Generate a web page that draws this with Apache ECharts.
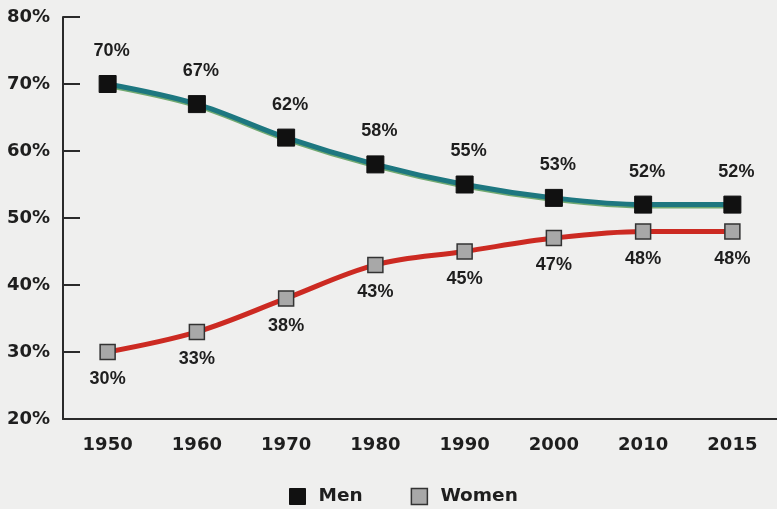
<!DOCTYPE html>
<html>
<head>
<meta charset="utf-8">
<script src="https://cdn.jsdelivr.net/npm/echarts@6/dist/echarts.min.js"></script>
<style>
  html, body { margin: 0; padding: 0; background: #efefee; }
  #chart { width: 777px; height: 509px; }
</style>
</head>
<body>
<div id="chart"></div>
<script>
// Share of the workforce by sex, 1950-2015
const years = ['1950', '1960', '1970', '1980', '1990', '2000', '2010', '2015'];
const men = [70, 67, 62, 58, 55, 53, 52, 52];
const women = [30, 33, 38, 43, 45, 47, 48, 48];
const yTicks = { min: 20, max: 80, step: 10 };

const FONT = 'DejaVu Sans';
const LABEL_FONT = 'Liberation Sans';
const INK = '#1e1e1e';

const pct = p => p.value + '%';

const chart = echarts.init(document.getElementById('chart'));
chart.setOption({
  backgroundColor: '#efefee',
  animation: false,
  grid: { left: 63, right: -2, top: 17, bottom: 90 },
  legend: {
    left: 289,
    bottom: 3,
    padding: 0,
    itemWidth: 16,
    itemHeight: 16,
    itemGap: 48,
    textStyle: { fontFamily: FONT, fontWeight: 'bold', fontSize: 18.5, color: INK, padding: [0, 0, 0, 8] },
    data: [
      { name: 'Men', icon: 'rect', itemStyle: { color: '#111', borderColor: '#111', borderWidth: 1 } },
      { name: 'Women', icon: 'rect', itemStyle: { color: '#a8a8a8', borderColor: '#333', borderWidth: 1.5 } }
    ]
  },
  xAxis: {
    type: 'category',
    data: years,
    boundaryGap: true,
    axisLine: { lineStyle: { color: '#2a2a2a', width: 2 } },
    axisTick: { inside: true, length: 9, lineStyle: { color: '#2a2a2a', width: 2 } },
    axisLabel: { fontFamily: FONT, fontWeight: 'bold', fontSize: 18, color: INK, margin: 17 }
  },
  yAxis: {
    type: 'value',
    min: yTicks.min,
    max: yTicks.max,
    interval: yTicks.step,
    axisLine: { show: true, lineStyle: { color: '#2a2a2a', width: 2 } },
    axisTick: { show: true, inside: true, length: 17, lineStyle: { color: '#2a2a2a', width: 2 } },
    splitLine: { show: false },
    axisLabel: { fontFamily: FONT, fontWeight: 'bold', fontSize: 18, color: INK, margin: 13, formatter: '{value}%' }
  },
  series: [
    {
      name: 'Men',
      type: 'line',
      data: men,
      smooth: 0.35,
      symbol: 'rect',
      symbolSize: 17,
      lineStyle: { color: '#1d7780', width: 5, shadowColor: 'rgba(60,140,60,0.7)', shadowOffsetY: 1.5 },
      itemStyle: { color: '#111', borderColor: '#111', borderWidth: 1 },
      label: {
        show: true, position: 'top', distance: 15, offset: [4, 0],
        fontFamily: LABEL_FONT, fontWeight: 'bold', fontSize: 18, color: INK,
        formatter: pct
      },
      z: 3
    },
    {
      name: 'Women',
      type: 'line',
      data: women,
      smooth: 0.35,
      symbol: 'rect',
      symbolSize: 15,
      lineStyle: { color: '#cc2a22', width: 5 },
      itemStyle: { color: '#a8a8a8', borderColor: '#333', borderWidth: 1.5 },
      label: {
        show: true, position: 'bottom', distance: 10,
        fontFamily: LABEL_FONT, fontWeight: 'bold', fontSize: 18, color: INK,
        formatter: pct
      },
      z: 3
    }
  ]
});
</script>
</body>
</html>
